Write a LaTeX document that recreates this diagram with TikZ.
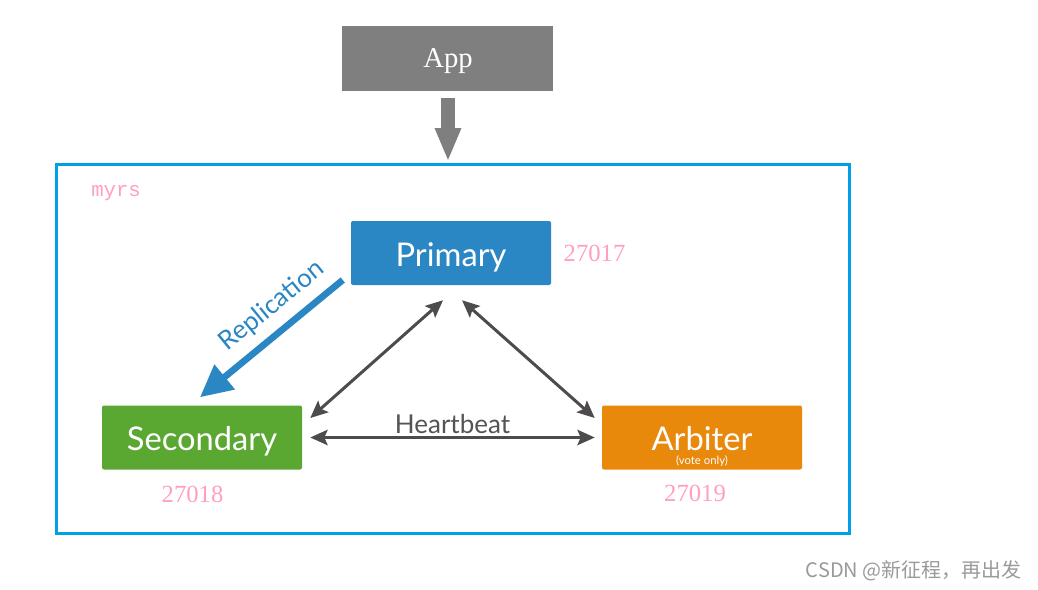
\documentclass[tikz,border=0pt]{standalone}
\usepackage{fontspec}
\setmainfont{Lato}
\newfontfamily\serifF{Liberation Serif}
\newfontfamily\monoF{Liberation Mono}
\newfontfamily\cjk{Noto Sans CJK SC}
\usetikzlibrary{arrows.meta,calc}
\definecolor{appgray}{HTML}{7F7F7F}
\definecolor{frameblue}{HTML}{00A0E6}
\definecolor{primblue}{HTML}{2B86C4}
\definecolor{secgreen}{HTML}{5AA832}
\definecolor{arborange}{HTML}{E8890C}
\definecolor{arrgray}{HTML}{4D4B4B}
\definecolor{hbtext}{HTML}{555353}
\definecolor{portpink}{HTML}{FFA0BF}
\definecolor{wmgray}{HTML}{9A9A9A}
\tikzset{
  member/.style={rounded corners=1.5pt, minimum width=150pt, minimum height=48pt, inner sep=0pt},
  label24/.style={text=white, font=\fontsize{24.5}{28}\selectfont, inner sep=0pt},
  port/.style={text=portpink, font=\serifF\fontsize{18.5}{22}\selectfont, inner sep=0pt},
  hb/.style={draw=arrgray, line width=2.25pt, {Stealth[length=13pt,width=11.5pt,inset=2.5pt]}-{Stealth[length=13pt,width=11.5pt,inset=2.5pt]}},
}
\begin{document}
\begin{tikzpicture}[x=0.75pt,y=-0.75pt]
\useasboundingbox (0,0) rectangle (1038,589);
\fill[white] (0,0) rectangle (1038,589);
% App
\node[fill=appgray, minimum width=158.25pt, minimum height=48.75pt, inner sep=0pt] (app) at (447.5,58.5) {};
\node[text=white, font=\serifF\fontsize{21.5}{24}\selectfont, inner sep=0pt] (apptext) at (448,61) {App};
% frame
\node[draw=frameblue, line width=2.25pt, minimum width=594.75pt, minimum height=276.75pt, inner sep=0pt] (frame) at (452.5,348.5) {};
\draw[appgray, line width=10.5pt, -{Triangle[length=25pt,width=18pt]}] ($(app.south)+(0.5,7)$) -- ($(frame.north)+(-4.5,-1)$);
\node[text=portpink, font=\monoF\fontsize{15.5}{18}\selectfont, anchor=west, inner sep=0pt] (myrs) at (91,193) {myrs};
% members
\node[member, fill=primblue] (primary) at (451,253) {};
\node[label24] (primtext) at (451,257) {Primary};
\node[member, fill=secgreen] (secondary) at (202,437.5) {};
\node[label24] (sectext) at (202,441) {Secondary};
\node[member, fill=arborange] (arbiter) at (702,437.5) {};
\node[label24] (arbtext) at (702,439) {Arbiter};
\node[text=white, font=\fontsize{8.5}{10}\selectfont, inner sep=0pt] (vote) at (702,461.5) {(vote only)};
% ports
\node[port] (p1) at (594.5,253) {27017};
\node[port] (p2) at (192.5,494) {27018};
\node[port] (p3) at (695,493) {27019};
% heartbeat arrows
\draw[hb] ($(primary.south)+(-8,15)$) -- ($(secondary.east)+(8,-19.5)$);
\draw[hb] ($(primary.south)+(11,15)$) -- ($(arbiter.west)+(-7,-19.5)$);
\draw[hb] ($(secondary.east)+(8,0)$) -- ($(arbiter.west)+(-7,0)$);
\node[text=hbtext, font=\fontsize{19.5}{22}\selectfont, inner sep=0pt] (hbl) at (452.5,424) {Heartbeat};
% replication
\draw[primblue, line width=5pt, -{Triangle[length=24pt,width=23pt]}] ($(primary.west)+(-8,27)$) -- ($(secondary.north)+(-2,-8)$);
\node[text=primblue, rotate=39.3, font=\fontsize{19.5}{22}\selectfont, inner sep=0pt] (repl) at (272,306) {Replication};
% watermark
\node[text=wmgray, font=\cjk\fontsize{15}{18}\selectfont, anchor=east, inner sep=0pt] (wm) at (1022,571) {CSDN @新征程，再出发};
\end{tikzpicture}
\end{document}
